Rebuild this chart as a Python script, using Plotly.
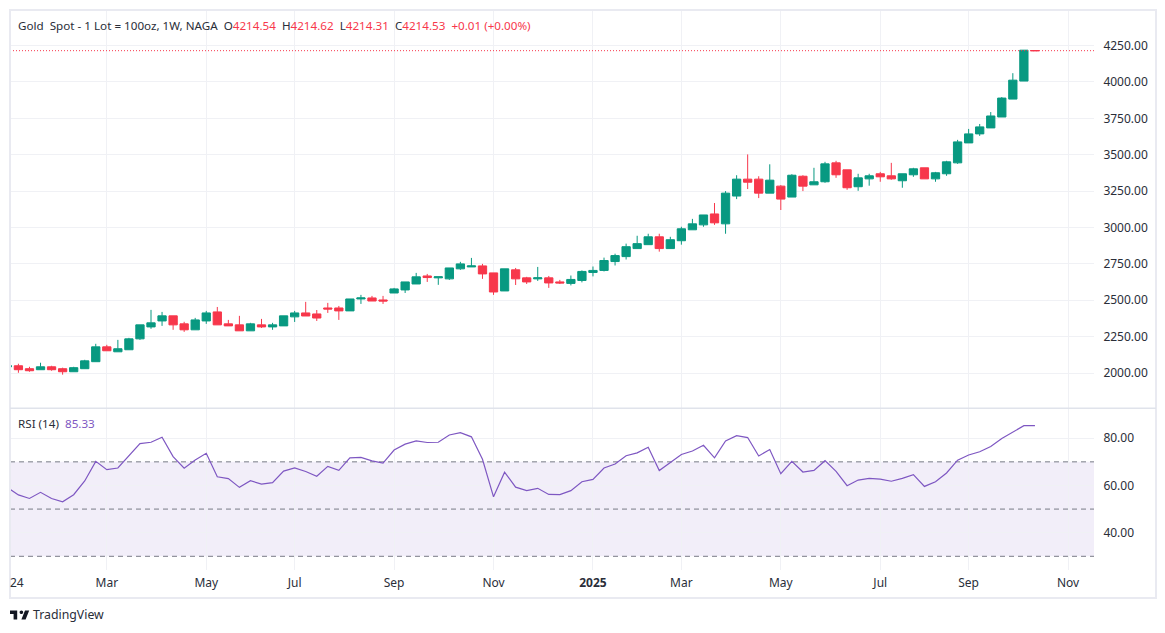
import pandas as pd
import plotly.graph_objects as go

# weekly bars, first one is clipped by the left edge of the chart
dates = pd.date_range("2024-01-01", periods=94, freq="7D")

open_prices = [2043, 2050, 2030, 2023, 2043, 2030, 2009, 2030, 2078, 2180, 2146, 2160, 2235, 2317, 2358, 2393, 2338,
               2297, 2358, 2420, 2338, 2331, 2290, 2331, 2317, 2324, 2386, 2413, 2406, 2447, 2447, 2427, 2509, 2516,
               2502, 2550, 2571, 2612, 2667, 2654, 2647, 2716, 2729, 2736, 2688, 2564, 2709, 2654, 2647, 2654, 2626,
               2616, 2636, 2691, 2705, 2766, 2800, 2855, 2882, 2936, 2855, 2909, 2984, 3018, 3093, 3025, 3216, 3332,
               3332, 3236, 3284, 3209, 3352, 3293, 3314, 3444, 3396, 3280, 3334, 3369, 3355, 3321, 3362, 3410, 3334,
               3369, 3444, 3581, 3643, 3684, 3759, 3882, 4006, 4214.54]
high_prices = [2055, 2064, 2043, 2071, 2050, 2037, 2043, 2091, 2201, 2194, 2228, 2242, 2331, 2434, 2420, 2393, 2352,
               2379, 2427, 2454, 2365, 2393, 2345, 2372, 2345, 2393, 2427, 2489, 2433, 2482, 2461, 2509, 2537, 2530,
               2530, 2585, 2626, 2688, 2681, 2661, 2722, 2764, 2791, 2750, 2688, 2716, 2722, 2661, 2729, 2667, 2640,
               2670, 2705, 2732, 2793, 2820, 2889, 2943, 2957, 2957, 2936, 3005, 3059, 3086, 3168, 3250, 3359, 3502,
               3352, 3434, 3291, 3366, 3359, 3410, 3451, 3458, 3396, 3369, 3369, 3382, 3444, 3369, 3410, 3410, 3382,
               3458, 3602, 3677, 3711, 3793, 3896, 4060, 4218, 4214.62]
low_prices = [2038, 2002, 2009, 2023, 2016, 1989, 2009, 2030, 2078, 2153, 2146, 2160, 2228, 2304, 2324, 2297, 2283,
              2297, 2338, 2331, 2324, 2290, 2290, 2310, 2297, 2324, 2351, 2392, 2358, 2413, 2365, 2427, 2475, 2495,
              2475, 2550, 2550, 2612, 2626, 2606, 2640, 2709, 2729, 2647, 2537, 2564, 2605, 2612, 2633, 2585, 2612,
              2602, 2623, 2664, 2698, 2739, 2780, 2855, 2882, 2834, 2855, 2882, 2984, 3005, 3018, 2957, 3195, 3264,
              3202, 3236, 3120, 3209, 3250, 3293, 3307, 3341, 3259, 3252, 3287, 3314, 3328, 3273, 3348, 3334, 3314,
              3355, 3437, 3581, 3629, 3684, 3759, 3882, 4006, 4214.31]
close_prices = [2050, 2023, 2016, 2043, 2023, 2009, 2037, 2084, 2180, 2153, 2167, 2235, 2331, 2345, 2393, 2331, 2297,
                2365, 2413, 2331, 2324, 2290, 2338, 2317, 2331, 2393, 2413, 2392, 2378, 2440, 2427, 2509, 2516, 2495,
                2495, 2578, 2626, 2661, 2656, 2661, 2722, 2750, 2736, 2681, 2557, 2716, 2647, 2626, 2654, 2619, 2619,
                2643, 2698, 2705, 2773, 2807, 2868, 2889, 2936, 2855, 2916, 2991, 3025, 3086, 3032, 3236, 3332, 3311,
                3236, 3325, 3195, 3359, 3284, 3314, 3437, 3362, 3273, 3341, 3355, 3348, 3334, 3369, 3403, 3334, 3376,
                3451, 3588, 3643, 3691, 3766, 3889, 4012, 4218, 4214.53]

rsi_values = [59.1, 56.0, 54.5, 57.1, 54.5, 53.1, 56.1, 61.9, 70.2, 66.7, 67.4, 72.5, 77.7, 78.3, 80.4, 72.2, 67.3,
              70.8, 73.6, 63.7, 62.9, 59.2, 62.0, 60.6, 61.2, 66.1, 67.4, 65.9, 63.9, 68.1, 66.4, 71.7, 71.9, 70.4,
              69.5, 75.0, 77.5, 78.9, 78.2, 78.3, 81.4, 82.4, 80.6, 71.1, 55.2, 65.6, 59.3, 57.8, 58.8, 56.2, 56.1,
              57.8, 61.6, 62.6, 67.4, 69.1, 72.6, 73.8, 76.2, 66.3, 69.7, 73.1, 74.6, 77.0, 71.7, 78.9, 81.1, 80.3,
              72.5, 75.2, 65.0, 70.2, 65.7, 66.4, 70.5, 66.0, 59.9, 62.3, 63.0, 62.7, 61.8, 63.0, 64.6, 59.6, 61.6,
              65.3, 70.7, 72.9, 74.3, 76.5, 79.9, 82.5, 85.33, 85.33]

month_ticks = ["2024-03-04", "2024-05-06", "2024-07-01", "2024-09-02", "2024-11-04", "2025-01-06",
               "2025-03-03", "2025-05-05", "2025-07-07", "2025-09-01", "2025-11-03"]
month_labels = ["Mar", "May", "Jul", "Sep", "Nov", "<b>2025</b>", "Mar", "May", "Jul", "Sep", "Nov"]
price_ticks = [2000, 2250, 2500, 2750, 3000, 3250, 3500, 3750, 4000, 4250]
rsi_ticks = [40, 60, 80]
rsi_dashes = [30, 50, 70]

UP = "#089981"
DOWN = "#F7374B"
PURPLE = "#7E57C2"
TEXT = "#2A2E39"
GRID = "#F0F1F5"
FRAME = "#E9EAF1"
FONT = "Noto Sans"

x_range = ["2024-01-02 16:00", "2025-11-19 10:00"]

fig = go.Figure()

fig.add_trace(go.Candlestick(
    x=dates, open=open_prices, high=high_prices, low=low_prices, close=close_prices,
    increasing=dict(line=dict(color=UP, width=1), fillcolor=UP),
    decreasing=dict(line=dict(color=DOWN, width=1), fillcolor=DOWN),
    whiskerwidth=0, xaxis="x", yaxis="y", showlegend=False,
))

# rsi band goes under the line
fig.add_shape(type="rect", xref="x2 domain", yref="y2", x0=0, x1=1, y0=min(rsi_dashes), y1=max(rsi_dashes),
              fillcolor="rgba(126,87,194,0.1)", line_width=0, layer="below")
for level in rsi_dashes:
    fig.add_shape(type="line", xref="x2 domain", yref="y2", x0=0, x1=1, y0=level, y1=level,
                  line=dict(color="#787B86", width=1, dash="5px,4px"), layer="below")

fig.add_trace(go.Scatter(x=dates, y=rsi_values, mode="lines", line=dict(color=PURPLE, width=1.2),
                         xaxis="x2", yaxis="y2", showlegend=False))

# last price line
fig.add_shape(type="line", xref="x domain", yref="y", x0=0, x1=1, y0=close_prices[-1], y1=close_prices[-1],
              line=dict(color=DOWN, width=1, dash="1px,2px"))

# frame and the line between the panes
fig.add_shape(type="rect", xref="paper", yref="paper", x0=0, x1=1.0572, y0=-0.05, y1=1,
              line=dict(color=FRAME, width=2))
fig.add_shape(type="line", xref="paper", yref="paper", x0=0, x1=1.0572, y0=0.2888, y1=0.2888,
              line=dict(color="#E0E3EB", width=1.5))

# tradingview logo, pixels from its lower left corner
fig.add_shape(type="path", xref="paper", yref="paper", xanchor=0, yanchor=-0.0884, xsizemode="pixel", ysizemode="pixel",
              path="M7.2,9 H0 V5.4 H3.6 V0 H7.2 Z M15.6,0 H11.4 L15,9 H19.2 Z "
                   "M11.4,9 C12.4,9 13.2,8.2 13.2,7.2 C13.2,6.2 12.4,5.4 11.4,5.4 "
                   "C10.4,5.4 9.6,6.2 9.6,7.2 C9.6,8.2 10.4,9 11.4,9 Z",
              fillcolor="#131722", line_width=0)


def red(value):
    return f'<span style="color:{DOWN}">{value}</span>'


header = ("Gold  Spot - 1 Lot = 100oz, 1W, NAGA  "
          f"O{red(f'{open_prices[-1]:.2f}')}  H{red(f'{high_prices[-1]:.2f}')}  "
          f"L{red(f'{low_prices[-1]:.2f}')}  C{red(f'{close_prices[-1]:.2f}')}  {red('+0.01 (+0.00%)')}")

fig.add_annotation(text=header, xref="paper", yref="paper", x=0.0055, y=0.9732, xanchor="left", yanchor="middle",
                   showarrow=False, font=dict(family=FONT, size=11.65, color=TEXT))
fig.add_annotation(text=f'RSI (14)  <span style="color:{PURPLE}">{rsi_values[-1]:.2f}</span>', xref="paper", yref="paper",
                   x=0.0055, y=0.2625, xanchor="left", yanchor="middle", showarrow=False,
                   font=dict(family=FONT, size=11.65, color=TEXT))
fig.add_annotation(text="24", xref="paper", yref="paper", x=-0.0018, y=-0.0232, xanchor="left", yanchor="middle",
                   showarrow=False, font=dict(family=FONT, size=12, color=TEXT))
fig.add_annotation(text="TradingView", xref="paper", yref="paper", x=0.0192, y=-0.0803, xanchor="left", yanchor="middle",
                   showarrow=False, font=dict(family=FONT, size=12.3, color="#2A2E39"))

fig.update_layout(
    width=1149, height=617,
    margin=dict(l=2, r=63, t=2, b=55),
    paper_bgcolor="white", plot_bgcolor="white",
    font=dict(family=FONT, size=12, color=TEXT),
    showlegend=False, boxgap=0.25, boxgroupgap=0,
    xaxis=dict(domain=[0, 1], range=x_range, type="date", anchor="y", rangeslider=dict(visible=False),
               tickmode="array", tickvals=month_ticks, showticklabels=False, ticks="",
               gridcolor=GRID, gridwidth=1, showline=False, zeroline=False),
    xaxis2=dict(domain=[0, 1], range=x_range, type="date", anchor="y2",
                tickmode="array", tickvals=month_ticks, ticktext=month_labels, tickangle=0,
                ticks="outside", ticklen=2, tickcolor="rgba(0,0,0,0)",
                gridcolor=GRID, gridwidth=1, showline=False, zeroline=False),
    yaxis=dict(domain=[0.2893, 1], range=[1760, 4494], side="right", anchor="x",
               tickmode="array", tickvals=price_ticks, tickformat=".2f",
               ticks="outside", ticklen=6, tickcolor="rgba(0,0,0,0)",
               gridcolor=GRID, gridwidth=1, showline=False, zeroline=False),
    yaxis2=dict(domain=[0, 0.2884], range=[24.2, 92.6], side="right", anchor="x2",
                tickmode="array", tickvals=rsi_ticks, tickformat=".2f",
                ticks="outside", ticklen=6, tickcolor="rgba(0,0,0,0)",
                gridcolor=GRID, gridwidth=1, showline=False, zeroline=False),
)

fig.write_html("out.html")
